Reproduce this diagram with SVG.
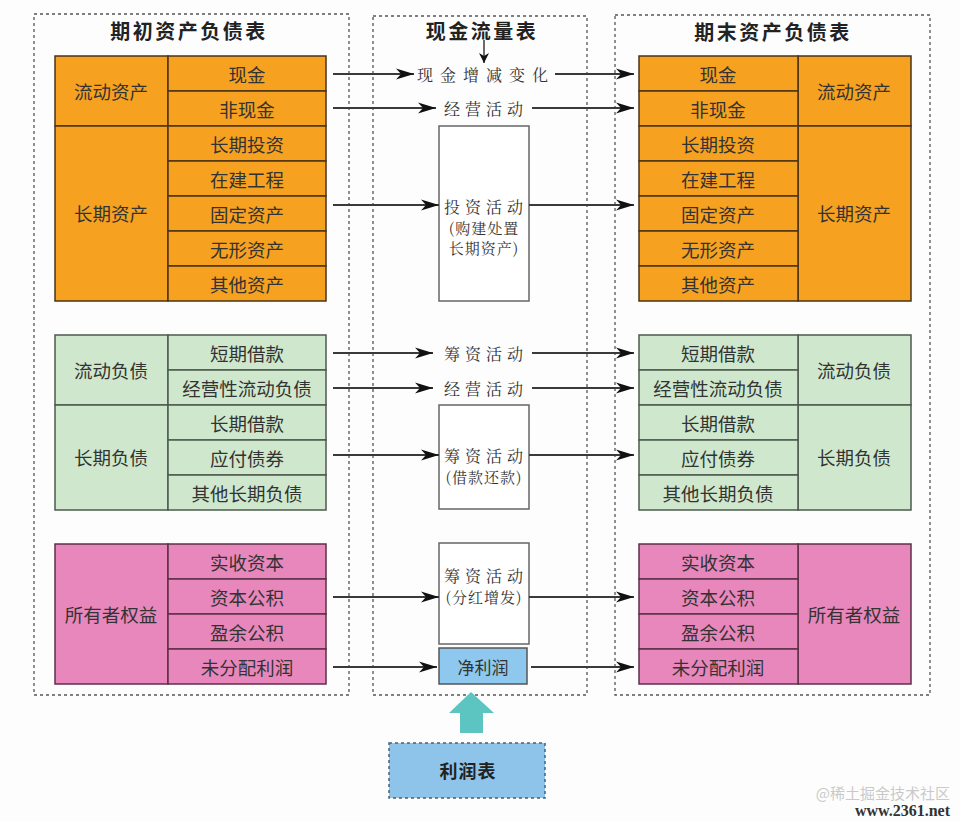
<svg xmlns="http://www.w3.org/2000/svg" width="960" height="822" viewBox="0 0 960 822">
<style>
.frame{fill:none;stroke:#555;stroke-width:1.3;stroke-dasharray:3 3}
.title{font-family:"Noto Sans CJK SC",sans-serif;font-weight:bold;font-size:20px;fill:#222;text-anchor:middle;dominant-baseline:central;letter-spacing:2.5px}
.cell{font-family:"Noto Sans CJK SC",sans-serif;font-size:18.5px;fill:#333;text-anchor:middle;dominant-baseline:central}
.org{fill:#f6a11f;stroke:#4a3518;stroke-width:1.5}
.grn{fill:#cfe8cd;stroke:#4d5a4d;stroke-width:1.5}
.pnk{fill:#e887bb;stroke:#5d2f48;stroke-width:1.5}
.lbl{font-family:"Noto Serif CJK SC","Noto Sans CJK SC",serif;font-size:16px;fill:#333;text-anchor:middle;dominant-baseline:central;letter-spacing:5px}
.sub{font-family:"Noto Serif CJK SC","Noto Sans CJK SC",serif;font-size:15px;fill:#333;text-anchor:middle;dominant-baseline:central;letter-spacing:1px}
.box{fill:#fff;stroke:#666;stroke-width:1.5}
.ln{stroke:#3a3a3a;stroke-width:2.2;fill:none}
</style>
<defs>
<marker id="ah" markerUnits="userSpaceOnUse" markerWidth="20" markerHeight="12" refX="18" refY="6" orient="auto">
<path d="M0,0.5 L18,6 L0,11.5 L5,6 z" fill="#111"/>
</marker>
<marker id="ah2" markerUnits="userSpaceOnUse" markerWidth="12" markerHeight="10" refX="10" refY="5" orient="auto">
<path d="M0,0 L10,5 L0,10 L3,5 z" fill="#111"/>
</marker>
</defs>
<rect width="960" height="822" fill="#fdfdfd"/>

<!-- frames -->
<rect class="frame" x="34" y="14" width="315" height="681"/>
<rect class="frame" x="373" y="16" width="214" height="679"/>
<rect class="frame" x="615" y="15" width="315" height="680"/>
<text class="title" x="189" y="30">期初资产负债表</text>
<text class="title" x="482" y="30">现金流量表</text>
<text class="title" x="773" y="31">期末资产负债表</text>

<!-- Left beginning balance sheet -->
<g id="left-assets">
<rect class="org" x="55" y="56" width="113" height="70"/>
<rect class="org" x="55" y="126" width="113" height="175"/>
<rect class="org" x="168" y="56" width="158" height="35"/>
<rect class="org" x="168" y="91" width="158" height="35"/>
<rect class="org" x="168" y="126" width="158" height="35"/>
<rect class="org" x="168" y="161" width="158" height="35"/>
<rect class="org" x="168" y="196" width="158" height="35"/>
<rect class="org" x="168" y="231" width="158" height="35"/>
<rect class="org" x="168" y="266" width="158" height="35"/>
<text class="cell" x="111" y="91">流动资产</text>
<text class="cell" x="111" y="213">长期资产</text>
<text class="cell" x="247" y="74">现金</text>
<text class="cell" x="247" y="109">非现金</text>
<text class="cell" x="247" y="144">长期投资</text>
<text class="cell" x="247" y="179">在建工程</text>
<text class="cell" x="247" y="214">固定资产</text>
<text class="cell" x="247" y="249">无形资产</text>
<text class="cell" x="247" y="284">其他资产</text>
</g>
<g id="left-liab">
<rect class="grn" x="55" y="335" width="113" height="70"/>
<rect class="grn" x="55" y="405" width="113" height="105"/>
<rect class="grn" x="168" y="335" width="158" height="35"/>
<rect class="grn" x="168" y="370" width="158" height="35"/>
<rect class="grn" x="168" y="405" width="158" height="35"/>
<rect class="grn" x="168" y="440" width="158" height="35"/>
<rect class="grn" x="168" y="475" width="158" height="35"/>
<text class="cell" x="111" y="370">流动负债</text>
<text class="cell" x="111" y="457">长期负债</text>
<text class="cell" x="247" y="353">短期借款</text>
<text class="cell" x="247" y="388">经营性流动负债</text>
<text class="cell" x="247" y="423">长期借款</text>
<text class="cell" x="247" y="458">应付债券</text>
<text class="cell" x="247" y="493">其他长期负债</text>
</g>
<g id="left-equity">
<rect class="pnk" x="55" y="544" width="113" height="140"/>
<rect class="pnk" x="168" y="544" width="158" height="35"/>
<rect class="pnk" x="168" y="579" width="158" height="35"/>
<rect class="pnk" x="168" y="614" width="158" height="35"/>
<rect class="pnk" x="168" y="649" width="158" height="35"/>
<text class="cell" x="111" y="614">所有者权益</text>
<text class="cell" x="247" y="562">实收资本</text>
<text class="cell" x="247" y="597">资本公积</text>
<text class="cell" x="247" y="632">盈余公积</text>
<text class="cell" x="247" y="667">未分配利润</text>
</g>

<!-- Right ending balance sheet -->
<g id="right-assets">
<rect class="org" x="798" y="56" width="113" height="70"/>
<rect class="org" x="798" y="126" width="113" height="175"/>
<rect class="org" x="639" y="56" width="159" height="35"/>
<rect class="org" x="639" y="91" width="159" height="35"/>
<rect class="org" x="639" y="126" width="159" height="35"/>
<rect class="org" x="639" y="161" width="159" height="35"/>
<rect class="org" x="639" y="196" width="159" height="35"/>
<rect class="org" x="639" y="231" width="159" height="35"/>
<rect class="org" x="639" y="266" width="159" height="35"/>
<text class="cell" x="854" y="91">流动资产</text>
<text class="cell" x="854" y="213">长期资产</text>
<text class="cell" x="718" y="74">现金</text>
<text class="cell" x="718" y="109">非现金</text>
<text class="cell" x="718" y="144">长期投资</text>
<text class="cell" x="718" y="179">在建工程</text>
<text class="cell" x="718" y="214">固定资产</text>
<text class="cell" x="718" y="249">无形资产</text>
<text class="cell" x="718" y="284">其他资产</text>
</g>
<g id="right-liab">
<rect class="grn" x="798" y="335" width="113" height="70"/>
<rect class="grn" x="798" y="405" width="113" height="105"/>
<rect class="grn" x="639" y="335" width="159" height="35"/>
<rect class="grn" x="639" y="370" width="159" height="35"/>
<rect class="grn" x="639" y="405" width="159" height="35"/>
<rect class="grn" x="639" y="440" width="159" height="35"/>
<rect class="grn" x="639" y="475" width="159" height="35"/>
<text class="cell" x="854" y="370">流动负债</text>
<text class="cell" x="854" y="457">长期负债</text>
<text class="cell" x="718" y="353">短期借款</text>
<text class="cell" x="718" y="388">经营性流动负债</text>
<text class="cell" x="718" y="423">长期借款</text>
<text class="cell" x="718" y="458">应付债券</text>
<text class="cell" x="718" y="493">其他长期负债</text>
</g>
<g id="right-equity">
<rect class="pnk" x="798" y="544" width="113" height="140"/>
<rect class="pnk" x="639" y="544" width="159" height="35"/>
<rect class="pnk" x="639" y="579" width="159" height="35"/>
<rect class="pnk" x="639" y="614" width="159" height="35"/>
<rect class="pnk" x="639" y="649" width="159" height="35"/>
<text class="cell" x="854" y="614">所有者权益</text>
<text class="cell" x="718" y="562">实收资本</text>
<text class="cell" x="718" y="597">资本公积</text>
<text class="cell" x="718" y="632">盈余公积</text>
<text class="cell" x="718" y="667">未分配利润</text>
</g>

<!-- Cash flow middle nodes -->
<g id="cf-cash"><text class="lbl" x="486" y="74" style="letter-spacing:7px">现金增减变化</text></g>
<g id="cf-op1"><text class="lbl" x="486" y="108">经营活动</text></g>
<g id="cf-inv">
<rect class="box" x="439" y="126" width="90" height="175"/>
<text class="lbl" x="486" y="206">投资活动</text>
<text class="sub" x="484" y="227">(购建处置</text>
<text class="sub" x="484" y="247">长期资产)</text>
</g>
<g id="cf-fin1"><text class="lbl" x="486" y="353">筹资活动</text></g>
<g id="cf-op2"><text class="lbl" x="486" y="388">经营活动</text></g>
<g id="cf-fin2">
<rect class="box" x="439" y="405" width="90" height="104"/>
<text class="lbl" x="486" y="455">筹资活动</text>
<text class="sub" x="484" y="476">(借款还款)</text>
</g>
<g id="cf-fin3">
<rect class="box" x="439" y="543" width="90" height="101"/>
<text class="lbl" x="486" y="575">筹资活动</text>
<text class="sub" x="484" y="596">(分红增发)</text>
</g>
<g id="net-profit">
<rect x="439" y="648" width="88" height="36" fill="#8ec8ee" stroke="#555" stroke-width="1.5"/>
<text class="cell" x="483" y="666" style="font-size:17px">净利润</text>
</g>
<g id="income-statement">
<rect x="389" y="743" width="156" height="55" fill="#8ec4ea" stroke="#44607a" stroke-width="1.5" stroke-dasharray="3 3"/>
<text class="title" x="468" y="770" style="font-size:18px;letter-spacing:1px">利润表</text>
</g>

<!-- connectors -->
<g id="connectors">
<line class="ln" x1="484" y1="40" x2="484" y2="63" marker-end="url(#ah2)" style="stroke-width:1.5"/>
<line class="ln" x1="333" y1="74" x2="414" y2="74" marker-end="url(#ah)"/>
<line class="ln" x1="555" y1="74" x2="634" y2="74" marker-end="url(#ah)"/>
<line class="ln" x1="333" y1="108" x2="436" y2="108" marker-end="url(#ah)"/>
<line class="ln" x1="532" y1="108" x2="634" y2="108" marker-end="url(#ah)"/>
<line class="ln" x1="333" y1="205" x2="439" y2="205" marker-end="url(#ah)"/>
<line class="ln" x1="529" y1="205" x2="634" y2="205" marker-end="url(#ah)"/>
<line class="ln" x1="333" y1="353" x2="433" y2="353" marker-end="url(#ah)"/>
<line class="ln" x1="532" y1="353" x2="634" y2="353" marker-end="url(#ah)"/>
<line class="ln" x1="333" y1="388" x2="433" y2="388" marker-end="url(#ah)"/>
<line class="ln" x1="532" y1="388" x2="634" y2="388" marker-end="url(#ah)"/>
<line class="ln" x1="333" y1="455" x2="439" y2="455" marker-end="url(#ah)"/>
<line class="ln" x1="529" y1="455" x2="634" y2="455" marker-end="url(#ah)"/>
<line class="ln" x1="333" y1="597" x2="439" y2="597" marker-end="url(#ah)"/>
<line class="ln" x1="529" y1="597" x2="634" y2="597" marker-end="url(#ah)"/>
<line class="ln" x1="333" y1="667" x2="437" y2="667" marker-end="url(#ah)"/>
<line class="ln" x1="531" y1="667" x2="634" y2="667" marker-end="url(#ah)"/>
<path d="M471,692 L494,713 L483,713 L483,733 L460,733 L460,713 L449,713 Z" fill="#5cc4c1"/>
</g>

<text x="950" y="816" font-family="Liberation Serif,serif" font-weight="bold" font-size="16" fill="#333" text-anchor="end">www.2361.net</text>
<text x="950" y="799" font-family="Noto Sans CJK SC,sans-serif" font-size="15" fill="#bbb" fill-opacity="0.8" text-anchor="end">@稀土掘金技术社区</text>
</svg>
